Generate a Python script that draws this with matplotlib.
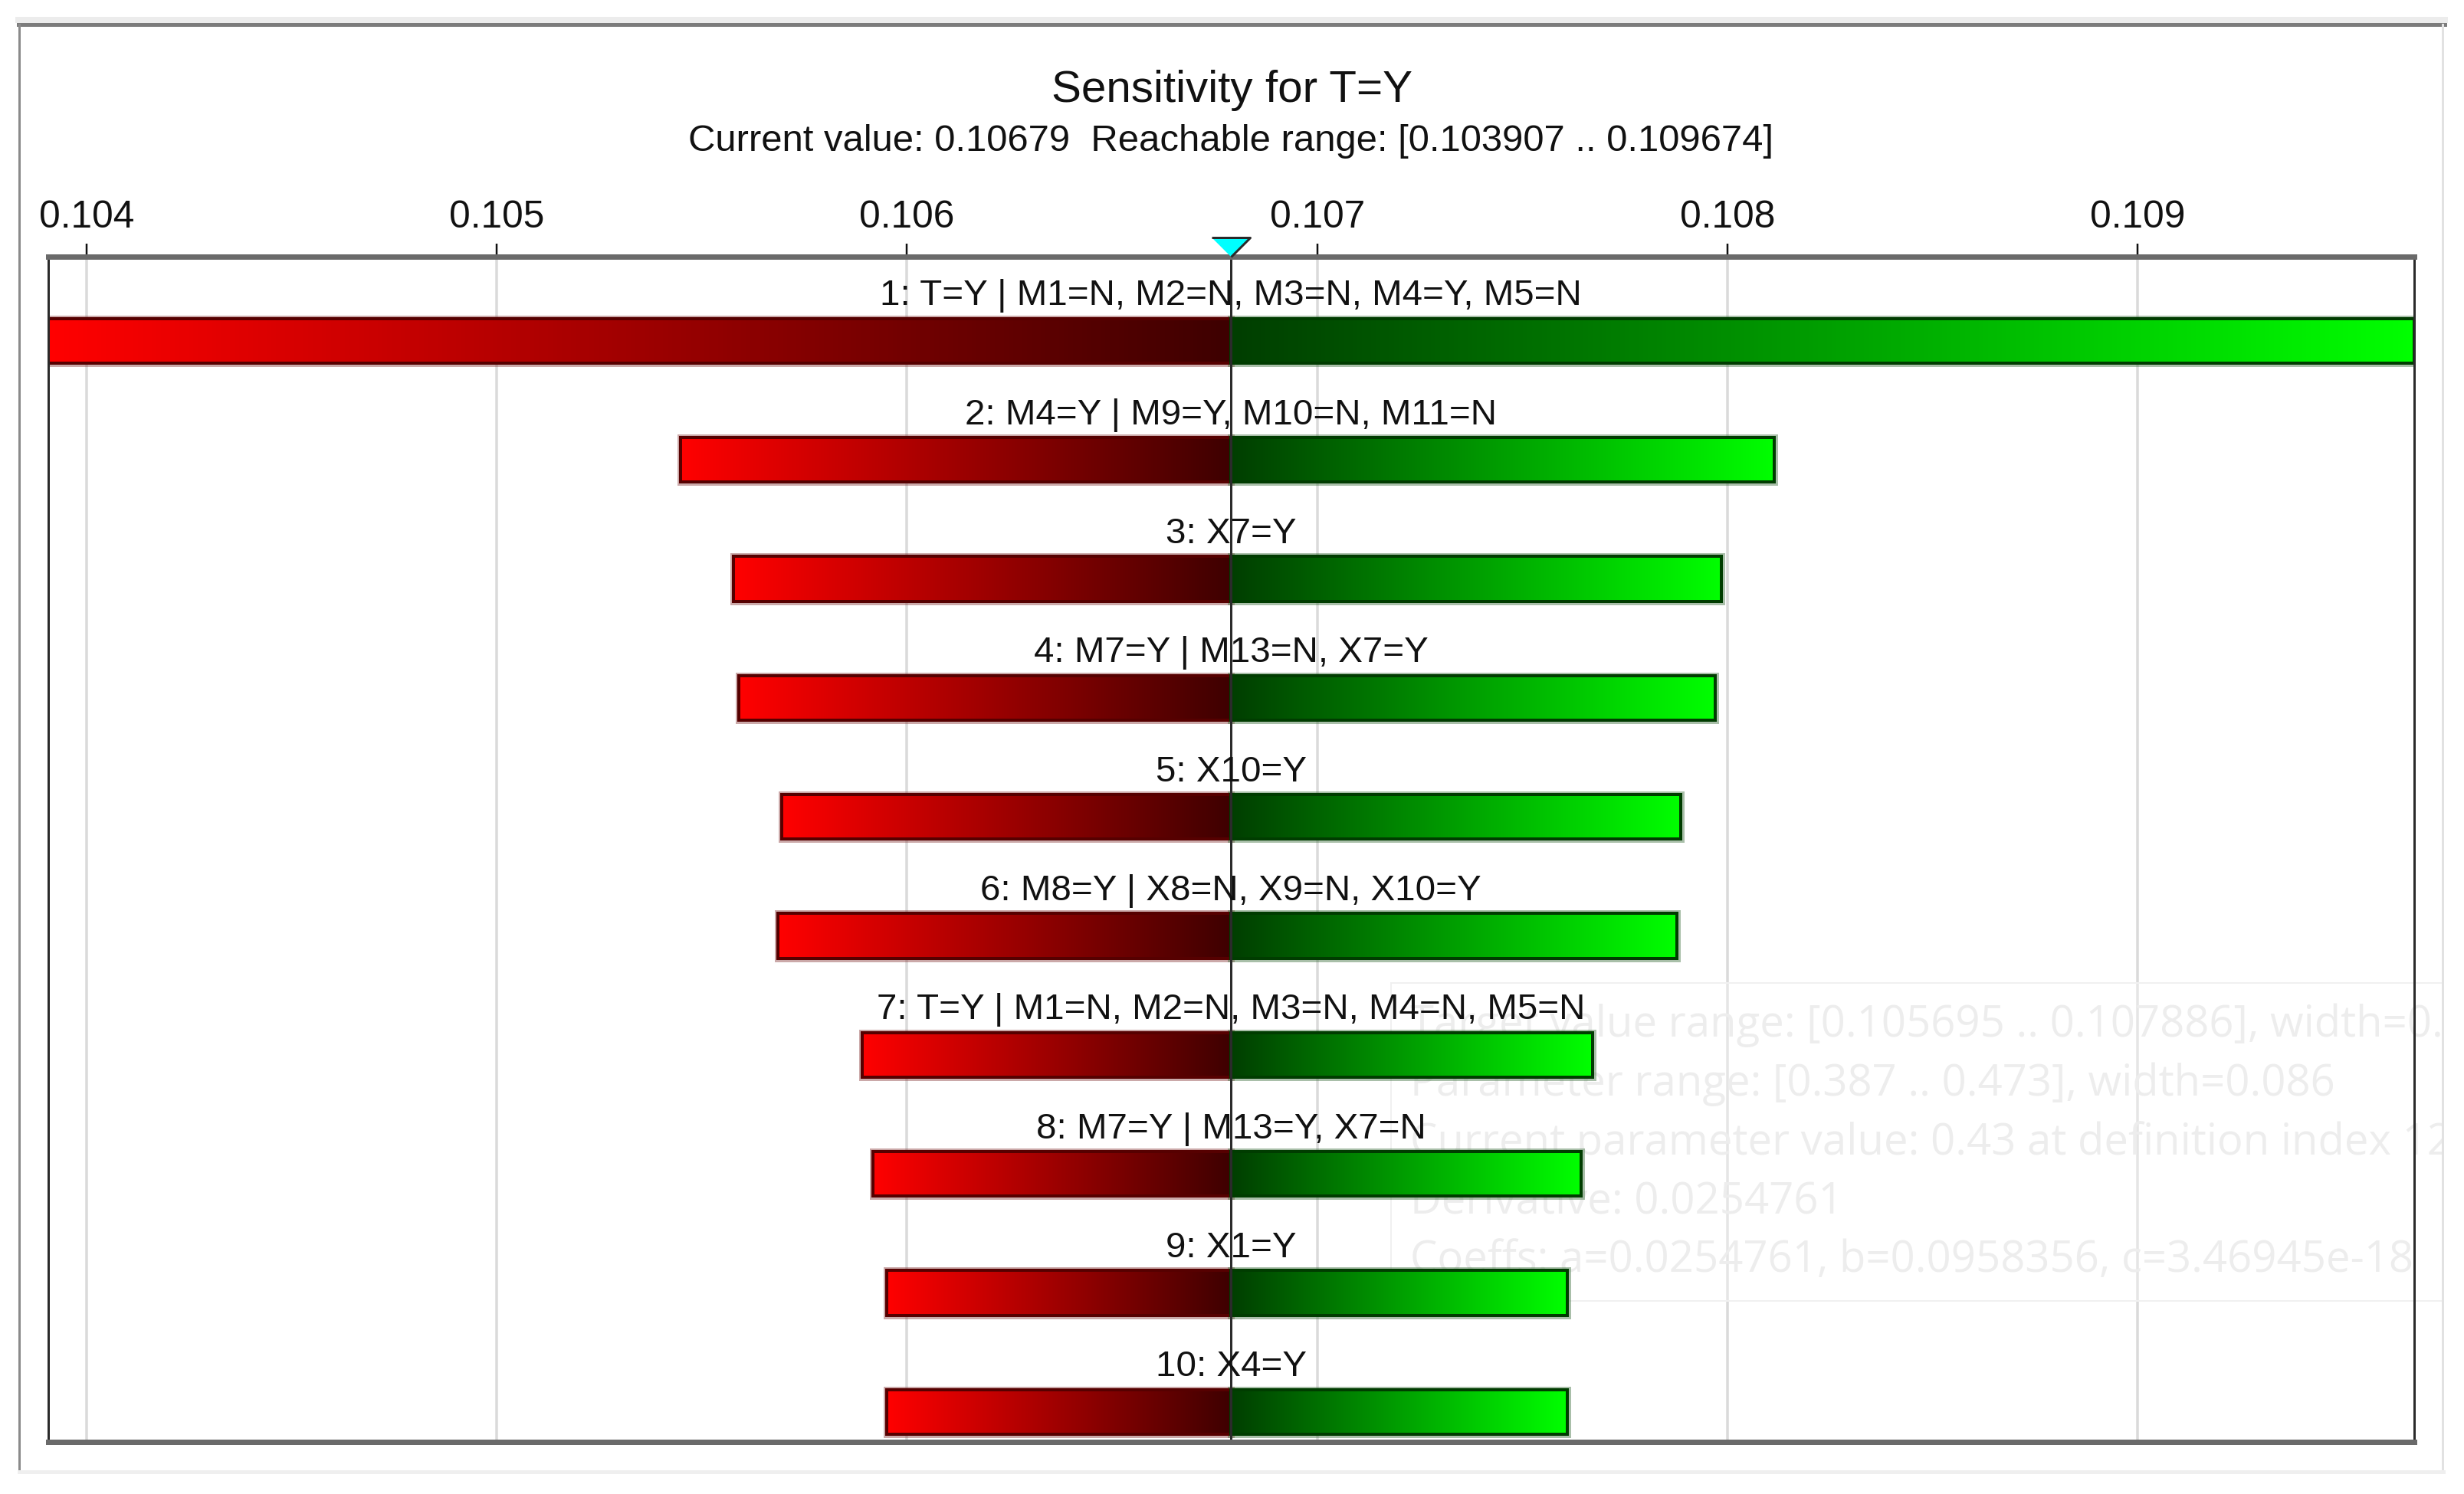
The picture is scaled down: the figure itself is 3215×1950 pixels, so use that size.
import numpy as np
import matplotlib
matplotlib.use("Agg")
import matplotlib.pyplot as plt
from matplotlib.colors import LinearSegmentedColormap
from matplotlib.patches import Rectangle
from matplotlib.lines import Line2D
from matplotlib.transforms import Bbox, TransformedBbox

plt.rcParams['font.family'] = ['Liberation Sans', 'DejaVu Sans']

# ---------------- data ----------------
title = "Sensitivity for T=Y"
current_value = 0.10679
reach_low = 0.103907
reach_high = 0.109674
subtitle = "Current value: 0.10679  Reachable range: [0.103907 .. 0.109674]"

bar_labels = [
    "1: T=Y | M1=N, M2=N, M3=N, M4=Y, M5=N",
    "2: M4=Y | M9=Y, M10=N, M11=N",
    "3: X7=Y",
    "4: M7=Y | M13=N, X7=Y",
    "5: X10=Y",
    "6: M8=Y | X8=N, X9=N, X10=Y",
    "7: T=Y | M1=N, M2=N, M3=N, M4=N, M5=N",
    "8: M7=Y | M13=Y, X7=N",
    "9: X1=Y",
    "10: X4=Y",
]
low_values = [0.103907, 0.105448, 0.105577, 0.105590, 0.105695,
              0.105685, 0.105891, 0.105917, 0.105951, 0.105951]
high_values = [0.109674, 0.108115, 0.107986, 0.107971, 0.107886,
               0.107876, 0.107671, 0.107643, 0.107609, 0.107609]

tick_values = [0.104, 0.105, 0.106, 0.107, 0.108, 0.109]
tick_labels = ["0.104", "0.105", "0.106", "0.107", "0.108", "0.109"]

tooltip_lines = [
    "Target value range: [0.105695 .. 0.107886], width=0.002191",
    "Parameter range: [0.387 .. 0.473], width=0.086",
    "Current parameter value: 0.43 at definition index 12",
    "Derivative: 0.0254761",
    "Coeffs: a=0.0254761, b=0.0958356, c=3.46945e-18",
]

# ---------------- layout helpers ----------------
W, H = 3216, 1950
fig = plt.figure(figsize=(W / 100, H / 100), dpi=100)
fig.patch.set_facecolor('white')
PT = 0.72  # points per pixel


def fx(x):
    return x / W


def fy(y):
    return 1 - y / H


# outer panel frame
fig.add_artist(Line2D([fx(24), fx(3190)], [fy(26), fy(26)], color='#ececec', lw=8 * PT))
fig.add_artist(Line2D([fx(24), fx(3190)], [fy(32), fy(32)], color='#7c7c7c', lw=5 * PT))
fig.add_artist(Line2D([fx(25), fx(25)], [fy(32), fy(1921)], color='#8a8a8a', lw=3 * PT))
fig.add_artist(Line2D([fx(3187), fx(3187)], [fy(32), fy(1921)], color='#e2e2e2', lw=3 * PT))
fig.add_artist(Line2D([fx(25), fx(3188)], [fy(1921), fy(1921)], color='#efefef', lw=5 * PT))

# titles
fig.text(fx(1608), fy(133), title, ha='center', va='baseline', fontsize=42, color='#111111')
fig.text(fx(1606), fy(197), subtitle, ha='center', va='baseline', fontsize=35.3, color='#111111')

# main axes
L, R, T, B = 63, 3150, 335, 1882
ax = fig.add_axes([fx(L), fy(B), (R - L) / W, (B - T) / H])
ax.set_facecolor('white')

n = len(bar_labels)
ylim_top = -0.708
ylim_bot = 9.253
half = 0.1875

red_cmap = LinearSegmentedColormap.from_list('r', ['#ff0000', '#3e0000'])
green_cmap = LinearSegmentedColormap.from_list('g', ['#003e00', '#00ff00'])
grad = np.linspace(0, 1, 256).reshape(1, -1)

for i in range(n):
    lo, hi = low_values[i], high_values[i]
    # halo
    ax.barh(i, current_value - lo, left=lo, height=2 * half, facecolor='none',
            edgecolor=(0.55, 0.25, 0.25, 0.45), linewidth=9 * PT, zorder=2)
    ax.barh(i, hi - current_value, left=current_value, height=2 * half, facecolor='none',
            edgecolor=(0.25, 0.45, 0.25, 0.45), linewidth=9 * PT, zorder=2)
    ax.imshow(grad, cmap=red_cmap, extent=[lo, current_value, i - half, i + half],
              aspect='auto', interpolation='bilinear', zorder=3)
    ax.imshow(grad, cmap=green_cmap, extent=[current_value, hi, i - half, i + half],
              aspect='auto', interpolation='bilinear', zorder=3)
    ax.barh(i, current_value - lo, left=lo, height=2 * half, facecolor='none',
            edgecolor='#560000', linewidth=4 * PT, zorder=3.5)
    ax.barh(i, hi - current_value, left=current_value, height=2 * half, facecolor='none',
            edgecolor='#003c00', linewidth=4 * PT, zorder=3.5)
    ax.text(current_value, i - 0.30, bar_labels[i], ha='center', va='baseline',
            fontsize=34.2, color='#111111', zorder=7)

ax.axvline(current_value, color='#2b2b2b', lw=3 * PT, zorder=6)

ax.set_xlim(reach_low, reach_high)
ax.set_ylim(ylim_bot, ylim_top)
ax.set_yticks([])
ax.xaxis.tick_top()
ax.set_xticks(tick_values)
ax.set_xticklabels(tick_labels)
ax.tick_params(axis='x', which='both', direction='out', length=17 * PT, width=2.5 * PT,
               color='#111111', pad=11 * PT, labelsize=35.7, labelcolor='#111111',
               top=True, bottom=False)
ax.grid(axis='x', color='#dadada', lw=3.5 * PT, zorder=0)
ax.set_axisbelow(True)

for side in ['top', 'bottom']:
    ax.spines[side].set_linewidth(7 * PT)
    ax.spines[side].set_color('#6a6a6a')
for side in ['left', 'right']:
    ax.spines[side].set_linewidth(3 * PT)
    ax.spines[side].set_color('#2a2a2a')
for s in ax.spines.values():
    s.set_zorder(8)

# current value marker (inverted triangle on the top axis)
tri = [(-1, 1), (1, 1), (0, 0)]
ax.plot([current_value], [ylim_top], marker=tri, markersize=50 * PT,
        markerfacecolor='#00ffff', markeredgecolor='#2a2a2a', markeredgewidth=3 * PT,
        clip_on=False, zorder=9, linestyle='none')

# faded tooltip overlay (sits behind the bars, above the grid)
tip = Rectangle((fx(1815), fy(1698)), fx(3187) - fx(1815), fy(1283) - fy(1698),
                transform=fig.transFigure, facecolor=(1, 1, 1, 0.3),
                edgecolor=(0.94, 0.94, 0.94, 1), linewidth=2 * PT, clip_on=False, zorder=1.2)
ax.add_patch(tip)
clip = TransformedBbox(Bbox.from_extents(fx(1815), fy(1698), fx(3187), fy(1283)), fig.transFigure)
baselines = [1353, 1430, 1507, 1583, 1660]
for line, yb in zip(tooltip_lines, baselines):
    t = ax.text(fx(1840), fy(yb), line, transform=fig.transFigure, ha='left', va='baseline',
                fontsize=40.5, color='#ededed', family=['Open Sans', 'DejaVu Sans'], zorder=1.5)
    t.set_clip_box(clip)
    t.set_clip_on(True)

fig.savefig('out.png', dpi=100, facecolor='white')
